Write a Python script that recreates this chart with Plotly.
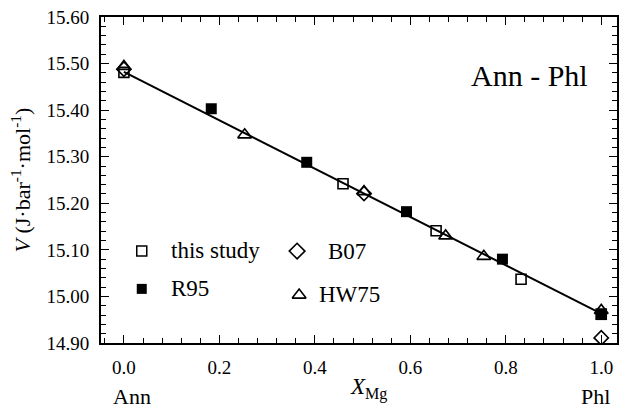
import plotly.graph_objects as go

FONT = "Liberation Serif, Tinos, DejaVu Serif, serif"

# data
this_x = [0.0, 0.459, 0.654, 0.832, 1.0]
this_y = [15.481, 15.242, 15.141, 15.037, 14.962]
r95_x = [0.183, 0.383, 0.592, 0.793, 1.0]
r95_y = [15.403, 15.288, 15.182, 15.080, 14.961]
hw75_x = [0.0, 0.253, 0.503, 0.674, 0.754, 1.0]
hw75_y = [15.494, 15.347, 15.225, 15.130, 15.086, 14.970]
b07_x = [0.0, 0.503, 1.0]
b07_y = [15.488, 15.221, 14.911]
fit_x = [0.0, 1.0]
fit_y = [15.482, 14.963]

leg_names = ["this study", "R95", "B07", "HW75"]

fig = go.Figure()
fig.add_trace(go.Scatter(x=fit_x, y=fit_y, mode="lines",
                         line=dict(color="black", width=2), showlegend=False))
fig.add_trace(go.Scatter(x=this_x, y=this_y, mode="markers",
                         marker=dict(symbol="square-open", size=10, color="black",
                                     line=dict(width=1.6, color="black")), showlegend=False))
fig.add_trace(go.Scatter(x=r95_x, y=r95_y, mode="markers",
                         marker=dict(symbol="square", size=11, color="black"), showlegend=False))
fig.add_trace(go.Scatter(x=hw75_x, y=hw75_y, mode="markers",
                         marker=dict(symbol="triangle-up-open", size=12, color="black",
                                     line=dict(width=1.6, color="black")), showlegend=False))
fig.add_trace(go.Scatter(x=b07_x, y=b07_y, mode="markers",
                         marker=dict(symbol="diamond-open", size=11, color="black",
                                     line=dict(width=1.6, color="black")), showlegend=False))

# legend glyphs on overlay axes
fig.add_trace(go.Scatter(x=[0.079], y=[0.282], xaxis="x2", yaxis="y2", mode="markers",
                         marker=dict(symbol="square-open", size=10, color="black",
                                     line=dict(width=1.5, color="black")), showlegend=False))
fig.add_trace(go.Scatter(x=[0.079], y=[0.166], xaxis="x2", yaxis="y2", mode="markers",
                         marker=dict(symbol="square", size=10, color="black"), showlegend=False))
fig.add_trace(go.Scatter(x=[0.380], y=[0.282], xaxis="x2", yaxis="y2", mode="markers",
                         marker=dict(symbol="diamond-open", size=12, color="black",
                                     line=dict(width=1.6, color="black")), showlegend=False))
fig.add_trace(go.Scatter(x=[0.384], y=[0.147], xaxis="x2", yaxis="y2", mode="markers",
                         marker=dict(symbol="triangle-up-open", size=12, color="black",
                                     line=dict(width=1.6, color="black")), showlegend=False))

ann = []
def txt(x, y, t, size=23, xanchor="left", **kw):
    ann.append(dict(x=x, y=y, xref="paper", yref="paper", text=t, showarrow=False,
                    xanchor=xanchor, yanchor="middle",
                    font=dict(family=FONT, size=size, color="black"), **kw))

txt(0.131, 0.285, leg_names[0])
txt(0.131, 0.168, leg_names[1])
txt(0.436, 0.282, leg_names[2])
txt(0.419, 0.150, leg_names[3])
txt(0.830, 0.822, "Ann - Phl", size=30, xanchor="center")
txt(0.060, -0.163, "Ann", size=22, xanchor="center")
txt(0.959, -0.163, "Phl", size=22, xanchor="center")
txt(0.519, -0.140, "<i>X</i><sub>Mg</sub>", xanchor="center")
txt(-0.156, 0.5, "<i>V</i> (J·bar<sup>-1</sup>·mol<sup>-1</sup>)", size=22,
    xanchor="center", textangle=-90)

axis_common = dict(showline=True, linecolor="black", linewidth=2, mirror="ticks",
                   ticks="inside", tickcolor="black", tickwidth=1.2, ticklen=8,
                   showgrid=False, zeroline=False,
                   tickfont=dict(family=FONT, size=19, color="black"))

fig.update_layout(
    width=625, height=409,
    margin=dict(l=101, r=6, t=17, b=66),
    paper_bgcolor="white", plot_bgcolor="white",
    showlegend=False,
    font=dict(family=FONT, color="black"),
    xaxis=dict(range=[-0.048, 1.033], dtick=0.2, tick0=0, tickformat=".1f",
               minor=dict(dtick=0.04, ticks="inside", ticklen=5, tickcolor="black", tickwidth=1),
               ticklabelstandoff=6, **axis_common),
    yaxis=dict(range=[14.90, 15.60], dtick=0.1, tick0=14.9, tickformat=".2f",
               minor=dict(dtick=0.02, ticks="inside", ticklen=5, tickcolor="black", tickwidth=1),
               ticklabelstandoff=6, **axis_common),
    xaxis2=dict(range=[0, 1], overlaying="x", visible=False, fixedrange=True),
    yaxis2=dict(range=[0, 1], overlaying="y", visible=False, fixedrange=True),
    annotations=ann,
)

fig.write_html("out.html")
